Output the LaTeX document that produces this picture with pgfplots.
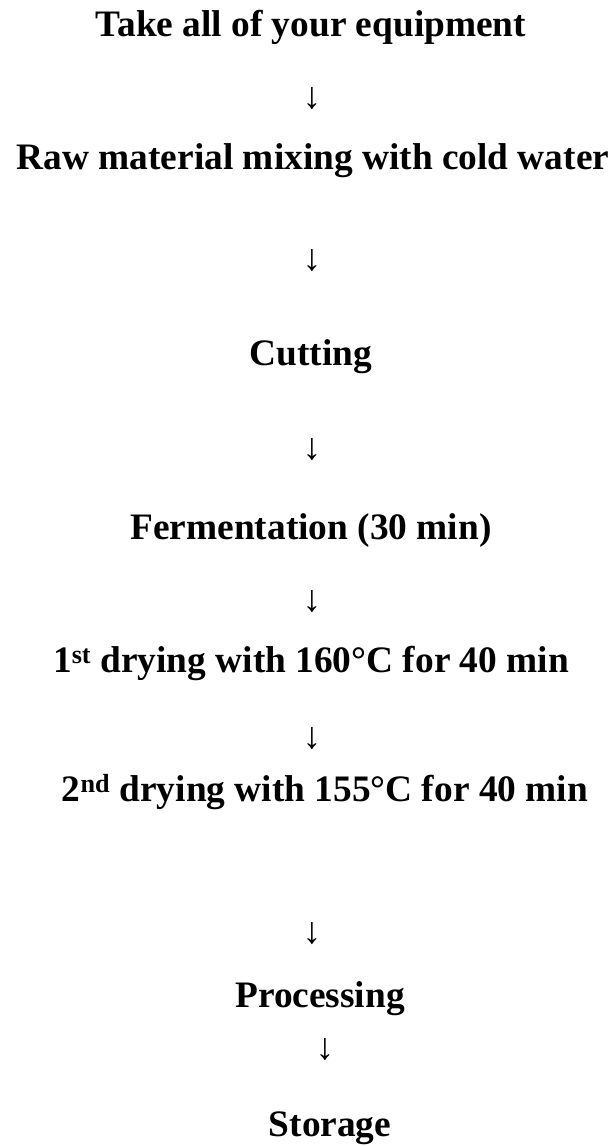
\documentclass[border=0pt]{standalone}
\usepackage{fontspec}
\setmainfont{Liberation Serif}
\usepackage{pgfplots}
\usepackage{pgfplotstable}
\pgfplotsset{compat=1.18}
% text lines: x = centre, y = baseline (pixels from top)
\pgfplotstableread[col sep=comma]{
x,y,label
311,37,Take all of your equipment
313,170,Raw material mixing with cold water
311,365,Cutting
311,539,Fermentation (30 min)
311,672,1\textsuperscript{st} drying with 160°C for 40 min
325,801,2\textsuperscript{nd} drying with 155°C for 40 min
320,1007,Processing
330,1136,Storage
}\steps
% arrows: x, y = centre
\pgfplotstableread[col sep=comma]{
x,y,label
312,99,↓
312,261,↓
312,450,↓
312,602,↓
312,739,↓
312,934,↓
325,1050,↓
}\arrows
\begin{document}
\begin{tikzpicture}
\begin{axis}[
  width=611bp, height=1146bp, scale only axis,
  xmin=0, xmax=611, ymin=0, ymax=1146, y dir=reverse,
  hide axis, clip=false,
]
\path[use as bounding box] (rel axis cs:0,0) rectangle (rel axis cs:1,1);
\addplot[only marks, mark=none, nodes near coords, point meta=explicit symbolic,
  nodes near coords style={anchor=base, inner sep=0pt, font=\bfseries\fontsize{37.5}{45}\selectfont, text=black}]
  table[x=x, y=y, meta=label] {\steps};
\addplot[only marks, mark=none, nodes near coords, point meta=explicit symbolic,
  nodes near coords style={anchor=center, inner sep=0pt, font=\fontsize{37.5}{45}\selectfont, text=black}]
  table[x=x, y=y, meta=label] {\arrows};
\end{axis}
\end{tikzpicture}
\end{document}
